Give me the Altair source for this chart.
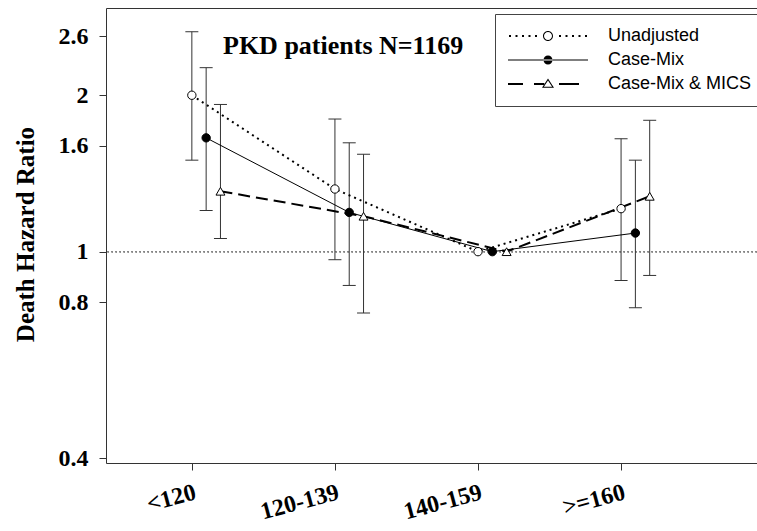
import json
import altair as alt
import pandas as pd

# ---------------- data ----------------
categories = ["<120", "120-139", "140-159", ">=160"]
series_names = ["Unadjusted", "Case-Mix", "Case-Mix & MICS"]

hr_unadjusted = [2.00, 1.32, 1.00, 1.21]
lo_unadjusted = [1.50, 0.965, None, 0.88]
hi_unadjusted = [2.65, 1.80, None, 1.65]

hr_casemix = [1.656, 1.19, 1.00, 1.086]
lo_casemix = [1.20, 0.861, None, 0.78]
hi_casemix = [2.26, 1.62, None, 1.50]

hr_mics = [1.307, 1.17, 1.00, 1.278]
lo_mics = [1.06, 0.762, None, 0.90]
hi_mics = [1.92, 1.54, None, 1.79]

y_tick_values = [0.4, 0.8, 1, 1.6, 2, 2.6]
title_text = "PKD patients N=1169"
y_title = "Death Hazard Ratio"

# ---------------- layout / style ----------------
DODGE = 0.1
SERIF = "Liberation Serif"
SANS = "Liberation Sans"
AXIS_COLOR = "#333333"

series_style = {
    "Unadjusted": dict(dash=[2, 4], width=2, shape="circle", fill="white", size=70),
    "Case-Mix": dict(dash=None, width=1, shape="circle", fill="black", size=70),
    "Case-Mix & MICS": dict(dash=[12, 6], width=2, shape="triangle-up", fill="white", size=80),
}

rows = []
for s_i, (name, hr, lo, hi) in enumerate(zip(
        series_names,
        [hr_unadjusted, hr_casemix, hr_mics],
        [lo_unadjusted, lo_casemix, lo_mics],
        [hi_unadjusted, hi_casemix, hi_mics])):
    for c_i, cat in enumerate(categories):
        rows.append(dict(series=name, category=cat, x=c_i + 1 + DODGE * s_i,
                         hr=hr[c_i], lo=lo[c_i], hi=hi[c_i]))
df = pd.DataFrame(rows)

x_scale = alt.Scale(domain=[0.4, 4.95], nice=False, zero=False)
y_scale = alt.Scale(type="log", domain=[0.392, 2.944], nice=False)

label_expr = json.dumps(categories) + "[datum.value - 1]"

x_axis_bottom = alt.Axis(
    values=[1, 2, 3, 4], labelExpr=label_expr, labelAngle=345,
    labelAlign="right", labelBaseline="top", labelFont=SERIF,
    labelFontWeight="bold", labelFontSize=24, labelColor="black",
    labelPadding=10, tickSize=7, tickColor=AXIS_COLOR, domainColor=AXIS_COLOR,
    grid=False, title=None, labelOverlap=False, labelFlush=False,
)
x_axis_top = alt.Axis(orient="top", labels=False, ticks=False, domain=True,
                      domainColor=AXIS_COLOR, grid=False, title=None)

y_axis = alt.Axis(
    values=y_tick_values, format="~g", labelFont=SERIF, labelFontWeight="bold",
    labelFontSize=24, labelColor="black", labelPadding=11, tickSize=7,
    tickColor=AXIS_COLOR, domainColor=AXIS_COLOR, grid=False,
    title=y_title, titleFont=SERIF, titleFontSize=25, titleFontWeight="bold",
    titleColor="black", titleAngle=270, titleX=-81, titleY=226,
    titleAlign="center", titleBaseline="middle",
)

Y_HR = alt.Y("hr:Q", scale=y_scale, axis=y_axis)
X_NOAXIS = alt.X("x:Q", scale=x_scale, axis=None)

# legend symbols: line + marker drawn as filled SVG paths (rings made with
# opposite winding so that open markers keep a hollow centre)
def dot(x):
    return f"M{x - 0.2:.2f},-0.2h0.4v0.4h-0.4Z"

def ring(r_out, r_in):
    return (f"M{-r_out},0A{r_out},{r_out},0,1,0,{r_out},0A{r_out},{r_out},0,1,0,{-r_out},0Z"
            f"M{-r_in},0A{r_in},{r_in},0,1,1,{r_in},0A{r_in},{r_in},0,1,1,{-r_in},0Z")

disk = "M-0.9,0A0.9,0.9,0,1,0,0.9,0A0.9,0.9,0,1,0,-0.9,0Z"
tri_ring = ("M-1.2,0.75L1.2,0.75L0,-1.1Z"
            "M-0.82,0.55L0,-0.68L0.82,0.55Z")

path_unadj = "".join(dot(x) for x in [-7.6, -6.3, -5.0, -3.7, -2.4, 2.4, 3.7, 5.0, 6.3, 7.6]) + ring(1.0, 0.8)
path_cm = "M-8,-0.1H8V0.1H-8Z" + disk
path_mics = ("M-8,-0.2H-5V0.2H-8Z" + "M-2.8,-0.2H-0.75V0.2H-2.8Z"
             + tri_ring + "M2.2,-0.2H6.2V0.2H2.2Z")

shape_scale = alt.Scale(domain=series_names, range=[path_unadj, path_cm, path_mics])

legend = alt.Legend(
    title=None, orient="none", legendX=389, legendY=6, direction="vertical",
    padding=13, strokeColor="#444444", fillColor="white", rowPadding=6,
    labelFont=SANS, labelFontSize=18, labelColor="black", labelOffset=51,
    symbolSize=100, symbolStrokeWidth=0, symbolFillColor="black",
    symbolOffset=31, symbolOpacity=1,
)

base = alt.Chart(df)

ref_line = base.mark_rule(color="#888888", strokeDash=[1.5, 2.5], strokeWidth=1).encode(
    y=alt.datum(1, scale=y_scale, axis=y_axis)
)

err_rules = base.transform_filter("isValid(datum.lo)").mark_rule(
    color=AXIS_COLOR, strokeWidth=1
).encode(
    x=alt.X("x:Q", scale=x_scale, axis=x_axis_bottom),
    y=alt.Y("lo:Q", scale=y_scale, axis=y_axis),
    y2="hi:Q",
)

caps = base.transform_filter("isValid(datum.lo)").transform_fold(
    ["lo", "hi"], as_=["end", "val"]
).mark_tick(orient="horizontal", size=13, thickness=1, color=AXIS_COLOR, opacity=1).encode(
    x=X_NOAXIS,
    y=alt.Y("val:Q", scale=y_scale, axis=y_axis),
)

layers = [ref_line, err_rules, caps]

for i, name in enumerate(series_names):
    st = series_style[name]
    line_kw = dict(color="black", strokeWidth=st["width"])
    if st["dash"]:
        line_kw["strokeDash"] = st["dash"]
    x_enc = alt.X("x:Q", scale=x_scale, axis=x_axis_top) if i == 0 else X_NOAXIS
    layers.append(
        base.transform_filter(alt.FieldEqualPredicate(field="series", equal=name))
        .mark_line(**line_kw)
        .encode(x=x_enc, y=Y_HR)
    )

for name in series_names:
    st = series_style[name]
    layers.append(
        base.transform_filter(alt.FieldEqualPredicate(field="series", equal=name))
        .mark_point(shape=st["shape"], filled=True, fill=st["fill"], stroke="black",
                    strokeWidth=1, size=st["size"], opacity=1)
        .encode(x=X_NOAXIS, y=Y_HR)
    )

legend_layer = base.mark_point(filled=True, color="black", size=100, opacity=0).encode(
    x=X_NOAXIS,
    y=Y_HR,
    shape=alt.Shape("series:N", scale=shape_scale, legend=legend),
)
layers.append(legend_layer)

chart = alt.layer(*layers).resolve_axis(x="independent").properties(
    width=651, height=455,
    autosize=alt.AutoSizeParams(type="none"),
    padding={"left": 106, "top": 8, "right": 0, "bottom": 61},
    background="white",
    title=alt.TitleParams(
        text=title_text, font=SERIF, fontSize=26, fontWeight="bold",
        color="black", anchor="start", frame="group", orient="top",
        baseline="alphabetic", offset=0, dx=117, dy=72,
    ),
).configure_view(stroke="transparent", strokeWidth=0)

chart.save("out.html", embed_options={"renderer": "svg", "actions": False})
